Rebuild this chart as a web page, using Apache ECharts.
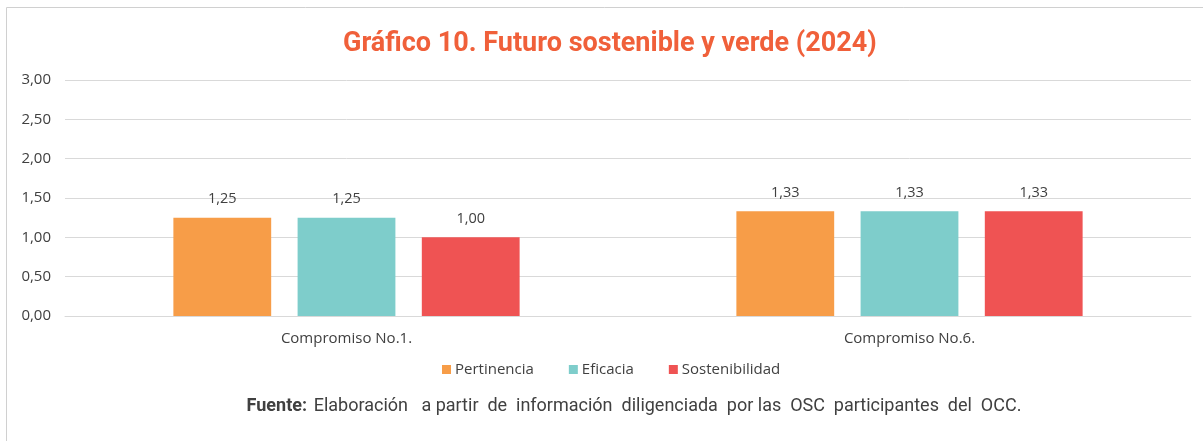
<!DOCTYPE html>
<html><head><meta charset="utf-8">
<script src="https://cdn.jsdelivr.net/npm/echarts@6/dist/echarts.min.js"></script>
<style>html,body{margin:0;padding:0;background:#fff}#c{width:1203px;height:441px}</style>
</head><body><div id="c"></div>
<script>
const categories = ['Compromiso No.1.', 'Compromiso No.6.'];
const pertinencia = [1.25, 1.33];
const eficacia = [1.25, 1.33];
const sostenibilidad = [1.00, 1.33];
const seriesNames = ['Pertinencia', 'Eficacia', 'Sostenibilidad'];
const colors = ['#F79D48', '#7ECDCB', '#EF5353'];

const chart = echarts.init(document.getElementById('c'));
const fmt = v => v.toFixed(2).replace('.', ',');
const mk = (name, data, color) => ({
  name, type: 'bar', data, barGap: '27%', barCategoryGap: '38.5%',
  itemStyle: { color },
  label: { show: true, position: 'top', distance: 11, formatter: p => fmt(p.value), color: '#404040', fontSize: 14.5, fontFamily: 'Open Sans' }
});
chart.setOption({
  animation: false,
  title: { text: 'Gráfico 10. Futuro sostenible y verde (2024)', left: 338, top: 26,
    textStyle: { color: '#F0603A', fontSize: 27, fontWeight: 'bold', fontFamily: 'Roboto' } },
  grid: { left: 65, right: 12, top: 80, bottom: 125 },
  legend: { bottom: 59, left: 437, itemWidth: 9, itemHeight: 9, itemGap: 35, icon: 'rect',
    textStyle: { color: '#404040', fontSize: 15, fontFamily: 'Open Sans', padding: [0, 0, 0, -1] } },
  xAxis: { type: 'category', data: categories,
    axisLine: { lineStyle: { color: '#d9d9d9' } }, axisTick: { show: false },
    axisLabel: { color: '#404040', fontSize: 15, margin: 15, fontFamily: 'Open Sans' } },
  yAxis: { type: 'value', min: 0, max: 3, interval: 0.5,
    axisLabel: { formatter: v => fmt(v), color: '#404040', fontSize: 15, margin: 14, fontFamily: 'Open Sans' },
    splitLine: { lineStyle: { color: '#d9d9d9' } } },
  series: [mk(seriesNames[0], pertinencia, colors[0]), mk(seriesNames[1], eficacia, colors[1]), mk(seriesNames[2], sostenibilidad, colors[2])],
  graphic: [
    { type: 'polyline', shape: { points: [[1203, 7.5], [6.5, 7.5], [6.5, 441]] }, style: { stroke: '#d0d0d0', lineWidth: 1, fill: null } },
    { type: 'text', x: 634, y: 397, style: {
      align: 'center',
      rich: { b: { fontWeight: 'bold', fontSize: 18, fill: '#404040', fontFamily: 'Roboto' }, n: { fontSize: 18, fill: '#404040', fontFamily: 'Roboto' } },
      text: '{b|Fuente:}  {n|Elaboración   a partir  de  información  diligenciada  por las  OSC  participantes  del  OCC.}' } }
  ]
});
</script></body></html>
